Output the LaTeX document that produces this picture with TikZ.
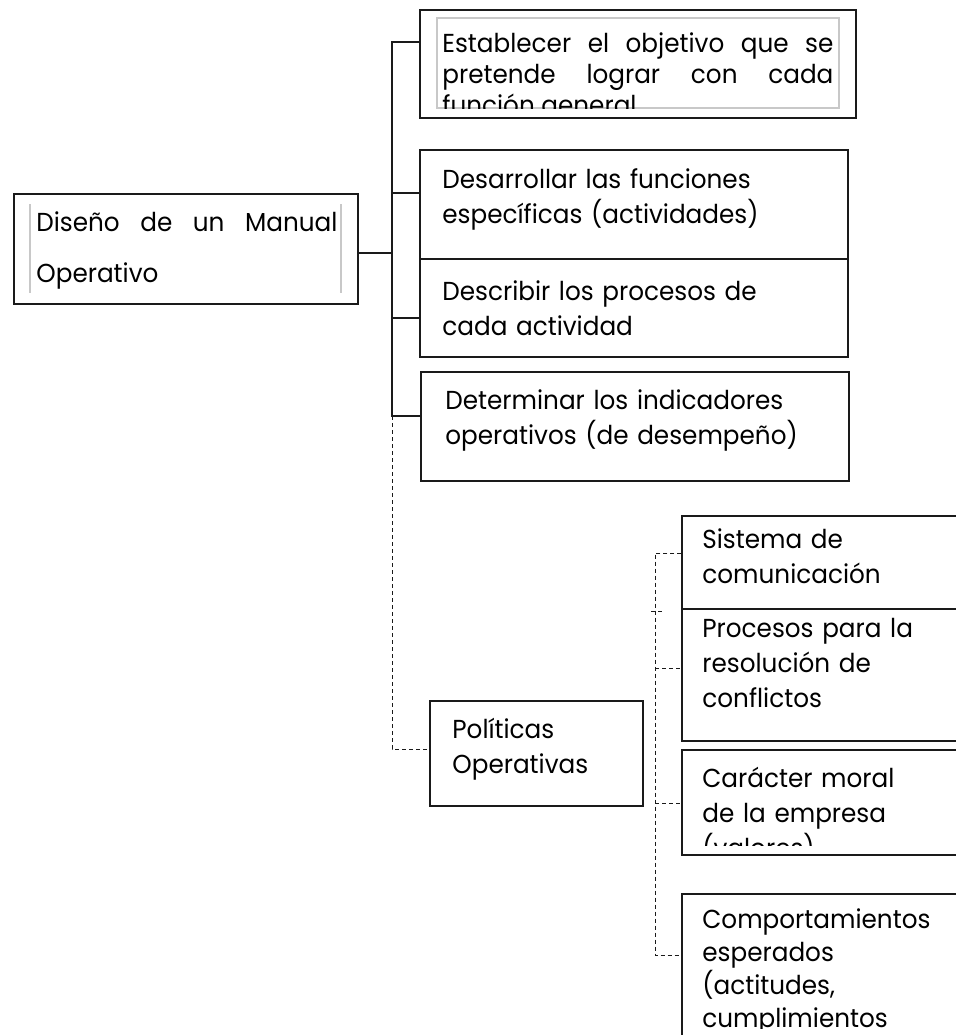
\documentclass[tikz,border=0pt]{standalone}
\usepackage{fontspec}
\setmainfont[FakeStretch=0.95]{Poppins}
\usetikzlibrary{positioning,fit}
\definecolor{boxline}{HTML}{1A1A1A}
\definecolor{guidegray}{HTML}{C8C8C8}
\tikzset{
  box/.style={draw=boxline, line width=0.7pt, inner sep=0pt},
  txt/.style={inner sep=0pt, anchor=base west, align=left, text width=220pt,
    font=\fontsize{13}{17.5}\selectfont},
  jtxt/.style={txt, align=justify},
  link/.style={draw=boxline, line width=0.6pt},
  dlink/.style={draw=boxline, line width=0.5pt, dash pattern=on 2pt off 1.5pt},
  guide/.style={draw=guidegray, line width=0.6pt}
}

\begin{document}
\begin{tikzpicture}[x=0.5pt, y=-0.5pt]
    \clip (0,0) rectangle (956,1035);
    \fill[white] (0,0) rectangle (956,1035);

    \node[box, fit={(14,194) (358,304)}] (root) {};
    \draw[guide] (30,204) -- (30,293) (341,204) -- (341,293);
    \node[jtxt, text width=150.5pt, font=\fontsize{13}{25.5}\selectfont] (rootT) at (36,231)
        {Diseño de un Manual\linebreak Operativo};

    \node[box, fit={(420,10) (856,118)}] (est) {};
    \draw[guide] (437,18) rectangle (839,108);
    \begin{scope}
        \clip (437,18) rectangle (839,108);
        \node[jtxt, text width=195.5pt, font=\fontsize{13}{15.5}\selectfont] (estT) at (442,52)
            {Establecer el objetivo que se\linebreak pretende lograr con cada\linebreak función general};
    \end{scope}

    \node[box, fit={(420,150) (848,259)}] (des) {};
    \node[txt] (desT) at (442,188) {Desarrollar las funciones\\específicas (actividades)};
    \node[box, fit={(420,259) (848,357)}] (dsc) {};
    \node[txt] (dscT) at (442,300) {Describir los procesos de\\cada actividad};
    \node[box, fit={(421,372) (849,481)}] (det) {};
    \node[txt] (detT) at (445,409) {Determinar los indicadores\\operativos (de desempeño)};

    \node[box, fit={(430,701) (643,806)}] (pol) {};
    \node[txt] (polT) at (452,738) {Políticas\\Operativas};

    \node[box, fit={(682,516) (990,609)}] (sis) {};
    \node[txt] (sisT) at (702,548) {Sistema de\\comunicación};
    \node[box, fit={(682,609) (990,741)}] (pro) {};
    \node[txt] (proT) at (702,637) {Procesos para la\\resolución de\\conflictos};
    \node[box, fit={(682,750) (990,855)}] (car) {};
    \begin{scope}
        \clip (682,750) rectangle (990,845);
        \node[txt] (carT) at (702,787) {Carácter moral\\de la empresa\\(valores)};
    \end{scope}
    \node[box, fit={(682,894) (990,1100)}] (com) {};
    \begin{scope}
        \clip (682,894) rectangle (990,1028);
        \node[txt, font=\fontsize{13}{16.5}\selectfont] (comT) at (702,928)
            {Comportamientos\\esperados\\(actitudes,\\cumplimientos};
    \end{scope}

    % first level
    \coordinate (tTop) at (392,42);
    \coordinate (tDes) at (392,193);
    \coordinate (tDsc) at (392,318);
    \coordinate (tDet) at (392,416);
    \coordinate (tPol) at (392,749);
    \draw[link] ([yshift=-2pt]root.east) -- ([yshift=-2pt]root.east -| tTop);
    \draw[link] (tTop -| est.west) -- (tTop) -- (tDet) -- (tDet -| det.west);
    \draw[link] (tDes) -- (tDes -| des.west);
    \draw[link] (tDsc) -- (tDsc -| dsc.west);
    \draw[dlink] (tDet) -- (tPol) -- (tPol -| pol.west);

    % second level
    \coordinate (sTop) at (655,553);
    \coordinate (sTick) at (651,611);
    \coordinate (sPro) at (655,668);
    \coordinate (sCar) at (655,803);
    \coordinate (sBot) at (655,955);
    \draw[dlink] (sTop -| sis.west) -- (sTop) -- (sBot) -- (sBot -| com.west);
    \draw[dlink] (sTick) -- ++(14,0);
    \draw[dlink] (sPro) -- (sPro -| pro.west);
    \draw[dlink] (sCar) -- (sCar -| car.west);
\end{tikzpicture}
\end{document}
